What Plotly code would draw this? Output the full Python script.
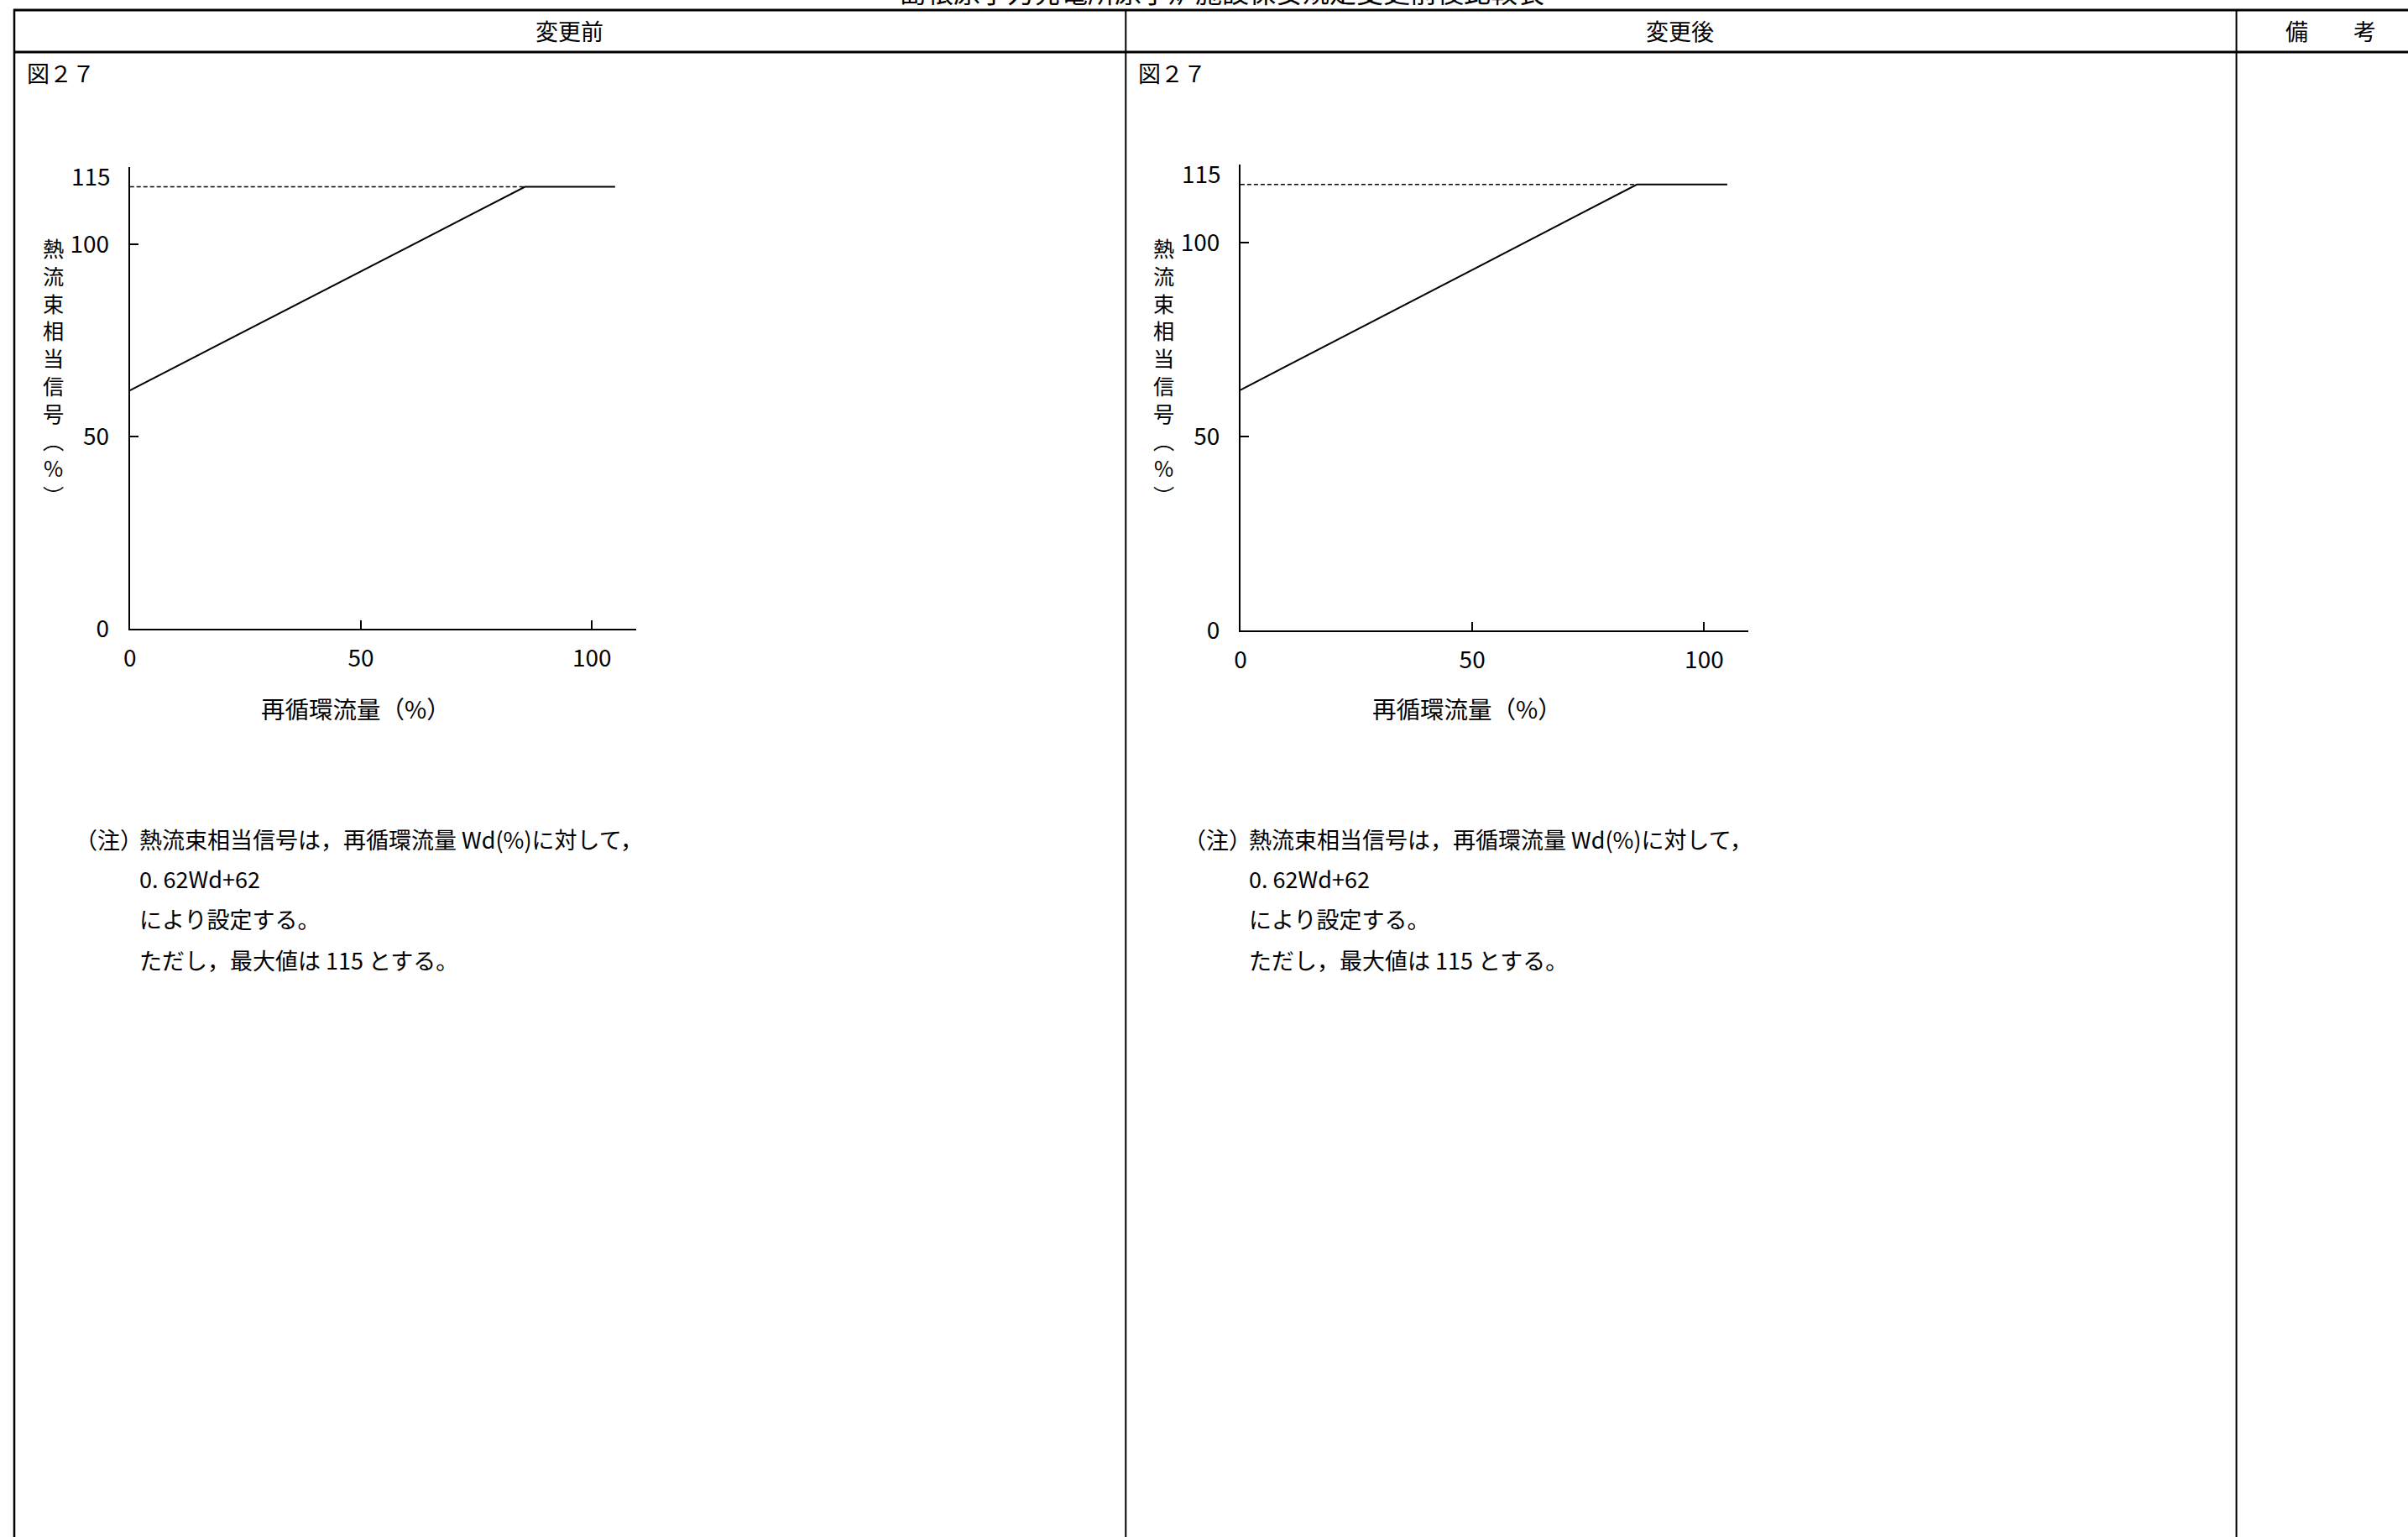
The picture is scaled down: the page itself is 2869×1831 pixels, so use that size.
import plotly.graph_objects as go

# ---- data ----
wd_line = [0, 85.5, 105]          # 再循環流量 (%)
signal_line = [62, 115, 115]      # 熱流束相当信号 (%)
wd_limit = [0, 85.5]              # dashed max-value guide
signal_limit = [115, 115]
x_ticks = [0, 50, 100]
y_ticks = [0, 50, 100]
y_top_label = 115
x_range = [0, 109.6]
y_range = [0, 120.2]

page_title = "島根原子力発電所原子炉施設保安規定変更前後比較表"
col_headers = ["変更前", "変更後", "備　　考"]
fig_label = "図２７"
x_title = "再循環流量（%）"
y_title_chars = ["熱", "流", "束", "相", "当", "信", "号", "︵", "%", "︶"]
note_head = "（注）"
note_lines = ["熱流束相当信号は，再循環流量 Wd(%)に対して，",
              "0. 62Wd+62",
              "により設定する。",
              "ただし，最大値は 115 とする。"]

W, H = 2869, 1831
CJK = "Noto Sans CJK JP"
NUM = "Noto Sans ExtraCondensed, Noto Sans Condensed, Liberation Sans Narrow, Noto Sans CJK JP"

# page-pixel -> figure-pixel (compensates the page offset seen when rendered)
def fx(x):
    return (x - 7.0) / 0.997

def fy(y):
    return y / 0.9915

def px(x):
    return fx(x) / W

def py(y):
    return 1 - fy(y) / H

fig = go.Figure()

panels = [
    dict(xl=153.7, xr=757, yb=750, yt=199, xa="x", ya="y", ax="xaxis", ay="yaxis",
         label_x=29, note_x=86, note_x2=163, ytitle_x=62, xtitle_x=423),
    dict(xl=1476.6, xr=2082, yb=752, yt=196, xa="x2", ya="y2", ax="xaxis2", ay="yaxis2",
         label_x=1353, note_x=1407, note_x2=1485, ytitle_x=1385, xtitle_x=1747),
]
note_ys = [1001, 1048, 1096, 1145]

annotations = []
layout_axes = {}
for p in panels:
    fig.add_trace(go.Scatter(x=wd_limit, y=signal_limit, mode="lines", xaxis=p["xa"], yaxis=p["ya"],
                             line=dict(color="black", width=1.6, dash="5px,3px"),
                             showlegend=False, hoverinfo="skip"))
    fig.add_trace(go.Scatter(x=wd_line, y=signal_line, mode="lines", xaxis=p["xa"], yaxis=p["ya"],
                             line=dict(color="black", width=2),
                             showlegend=False, hoverinfo="skip"))
    common = dict(showline=True, linecolor="black", linewidth=2, ticks="inside", ticklen=10,
                  tickwidth=1.5, tickcolor="black", showgrid=False, zeroline=False,
                  tickfont=dict(family=NUM, size=28, color="black"), fixedrange=True)
    layout_axes[p["ax"]] = dict(common, domain=[px(p["xl"]), px(p["xr"])], range=x_range,
                                tickmode="array", tickvals=x_ticks, anchor=p["ya"],
                                ticklabelstandoff=9)
    layout_axes[p["ay"]] = dict(common, domain=[py(p["yb"]), py(p["yt"])], range=y_range,
                                tickmode="array", tickvals=y_ticks, anchor=p["xa"],
                                ticklabelstandoff=17)
    # 115 label (no tick mark)
    annotations.append(dict(x=0, y=y_top_label, xref=p["xa"], yref=p["ya"], text=str(y_top_label),
                            showarrow=False, xanchor="right", yanchor="middle", xshift=-21, yshift=14,
                            font=dict(family=NUM, size=28, color="black")))
    # figure label
    annotations.append(dict(x=px(p["label_x"]), y=py(87), xref="paper", yref="paper", text=fig_label,
                            showarrow=False, xanchor="left", yanchor="middle",
                            font=dict(family=CJK, size=27, color="black")))
    # y title (vertical, stacked glyphs)
    annotations.append(dict(x=px(p["ytitle_x"]), y=py(443), xref="paper", yref="paper",
                            text="<br>".join(y_title_chars), showarrow=False,
                            xanchor="center", yanchor="middle", align="center",
                            font=dict(family=CJK, size=25.2, color="black")))
    # x title
    annotations.append(dict(x=px(p["xtitle_x"]), y=py(845), xref="paper", yref="paper", text=x_title,
                            showarrow=False, xanchor="center", yanchor="middle",
                            font=dict(family=CJK, size=28.5, color="black")))
    # notes
    annotations.append(dict(x=px(p["note_x"]), y=py(note_ys[0]), xref="paper", yref="paper",
                            text=note_head, showarrow=False, xanchor="left", yanchor="middle",
                            font=dict(family=CJK, size=27, color="black")))
    for t, yy in zip(note_lines, note_ys):
        annotations.append(dict(x=px(p["note_x2"]), y=py(yy), xref="paper", yref="paper",
                                text=t, showarrow=False, xanchor="left", yanchor="middle",
                                font=dict(family=CJK, size=27, color="black")))

# page title (cut off at the top edge)
annotations.append(dict(x=px(1455), y=1, xref="paper", yref="paper", text=page_title,
                        showarrow=False, xanchor="center", yanchor="middle", yshift=11,
                        font=dict(family=CJK, size=32, color="black")))
# column headers
for t, cx in zip(col_headers, [677, 2000, 2775]):
    annotations.append(dict(x=px(cx), y=py(37), xref="paper", yref="paper", text=t,
                            showarrow=False, xanchor="center", yanchor="middle",
                            font=dict(family=CJK, size=27, color="black")))

# table lines
shapes = []
def hline(y, x0, x1, w):
    shapes.append(dict(type="line", xref="paper", yref="paper", x0=px(x0), x1=px(x1),
                       y0=py(y), y1=py(y), line=dict(color="black", width=w)))
def vline(x, y0, y1, w):
    shapes.append(dict(type="line", xref="paper", yref="paper", x0=px(x), x1=px(x),
                       y0=py(y0), y1=py(y1), line=dict(color="black", width=w)))

hline(12, 15, W + 20, 3)
hline(62, 15, W + 20, 3)
vline(16, 11, H + 40, 2.5)
vline(1340, 11, H + 40, 2)
vline(2663, 11, H + 40, 2)

fig.update_layout(width=W, height=H, margin=dict(l=0, r=0, t=0, b=0),
                  paper_bgcolor="white", plot_bgcolor="white",
                  annotations=annotations, shapes=shapes, showlegend=False,
                  **layout_axes)

fig.write_html("out.html", config={"displayModeBar": False},
               post_script="document.body.style.margin='0';document.body.style.overflow='hidden';")
